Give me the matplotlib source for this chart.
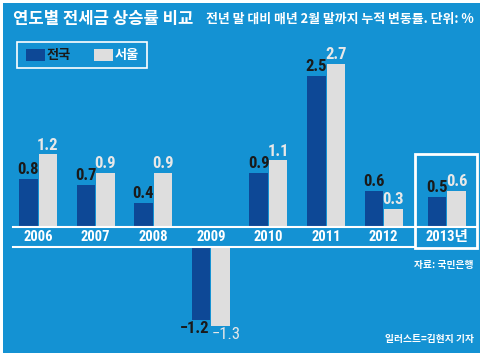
import numpy as np
import matplotlib
matplotlib.use('Agg')
import matplotlib.pyplot as plt
from matplotlib import font_manager
from matplotlib.patches import Rectangle

# data
years = ['2006', '2007', '2008', '2009', '2010', '2011', '2012', '2013년']
national = [0.8, 0.7, 0.4, -1.2, 0.9, 2.5, 0.6, 0.5]
seoul = [1.2, 0.9, 0.9, -1.3, 1.1, 2.7, 0.3, 0.6]
series_names = ['전국', '서울']

BLUE = '#1492d3'
DARK = '#0d4896'
LIGHT = '#dedede'
KR = ['Noto Sans CJK KR', 'DejaVu Sans']

# pick a narrow face for the numbers if one is installed
names = {f.name for f in font_manager.fontManager.ttflist}
narrow = 'Roboto'
for n in ['Liberation Sans Narrow', 'Roboto Condensed', 'Open Sans Condensed']:
    if n in names:
        narrow = n
        break
NUM = [narrow, 'Noto Sans CJK KR', 'DejaVu Sans']
nsize = 12 if narrow != 'Roboto' else 10.5
ysize = 10.5 if narrow != 'Roboto' else 9

W, H = 484, 357
fig = plt.figure(figsize=(W / 100, H / 100), dpi=100)
fig.patch.set_facecolor('white')


def fx(px):
    return px / W


def fy(py):
    return 1 - py / H


def frect(x0, y0, x1, y1, **kw):
    r = Rectangle((fx(x0), fy(y1)), fx(x1) - fx(x0), fy(y0) - fy(y1),
                  transform=fig.transFigure, **kw)
    fig.patches.append(r)


# blue panel
frect(3, 3, 480, 353, facecolor=BLUE, edgecolor='none', zorder=-5)

ax = fig.add_axes([0, 0, 1, 1])
ax.set_facecolor('none')
ax.axis('off')
ax.set_zorder(1)

# pixel mapping: y0 line at 227 px, 60.5 px per unit; groups 57.6 px apart
ppu = 60.5
ax.set_ylim((227 - H) / ppu, 227 / ppu)
ax.set_xlim(-38 / 57.6, (W - 38) / 57.6)
gap = 20 / ppu

x = np.arange(len(years), dtype=float)
x[-1] = 7.1
nat = np.array(national)
seo = np.array(seoul)
bw = 18.5 / 57.6
off = 9.75 / 57.6

ax.bar(x - off, nat, bw, bottom=np.where(nat < 0, -gap, 0), color=DARK, zorder=2)
ax.bar(x + off, seo, bw, bottom=np.where(seo < 0, -gap, 0), color=LIGHT, zorder=2)

pad = 0.03
for xi, v in zip(x, nat):
    if v >= 0:
        ax.text(xi - off, v + pad, f'{v:.1f}', ha='center', va='bottom',
                color='#1a1a1a', fontsize=nsize, fontweight='bold', family=NUM)
    else:
        ax.text(xi - 0.02, v - gap - pad, f'{v:.1f}'.replace('-', '−'), ha='right', va='top',
                color='#1a1a1a', fontsize=nsize, fontweight='bold', family=NUM)
for xi, v in zip(x, seo):
    if v >= 0:
        ax.text(xi + off, v + pad, f'{v:.1f}', ha='center', va='bottom',
                color='#e8e8e8', fontsize=nsize, fontweight='bold', family=NUM)
    else:
        ax.text(xi + 0.01, v - gap - pad, f'{v:.1f}'.replace('-', '−'), ha='left', va='top',
                color='#e8e8e8', fontsize=nsize, family=NUM)

for xi, lab in zip(x, years):
    ax.text(xi, -gap / 2, lab, ha='center', va='center', color='white',
            fontsize=ysize, fontweight='bold', family=NUM)

# baseline lines
ax.plot([fx(13), fx(477)], [fy(227), fy(227)], color='white', lw=1.5,
        transform=fig.transFigure, zorder=3)
ax.plot([fx(13), fx(415)], [fy(247), fy(247)], color='white', lw=1.5,
        transform=fig.transFigure, zorder=3)
# highlight box for 2013
frect(415, 154, 476.5, 248, facecolor='none', edgecolor='white', lw=2, zorder=3)

# title
fig.text(fx(13), fy(19), '연도별 전세금 상승률 비교', ha='left', va='center',
         color='white', fontsize=12, fontweight='bold', family=KR)
fig.text(fx(474), fy(19), '전년 말 대비 매년 2월 말까지 누적 변동률. 단위: %', ha='right',
         va='center', color='white', fontsize=9.3, fontweight='bold', family=KR)

# legend
frect(16.5, 42, 147, 68, facecolor='none', edgecolor='white', lw=1.2, zorder=3)
frect(26, 49, 45, 61, facecolor=DARK, edgecolor='none', zorder=3)
frect(94, 49, 113, 61, facecolor=LIGHT, edgecolor='none', zorder=3)
fig.text(fx(47), fy(55), series_names[0], ha='left', va='center', color='#1a1a1a',
         fontsize=9.5, fontweight='bold', family=KR)
fig.text(fx(115), fy(55), series_names[1], ha='left', va='center', color='white',
         fontsize=9.5, fontweight='bold', family=KR)

# sources
fig.text(fx(474), fy(265), '자료: 국민은행', ha='right', va='center', color='white',
         fontsize=7, fontweight='bold', family=KR)
fig.text(fx(474), fy(339), '일러스트=김현지 기자', ha='right', va='center', color='white',
         fontsize=7, fontweight='bold', family=KR)

fig.savefig('out.png', dpi=100)
